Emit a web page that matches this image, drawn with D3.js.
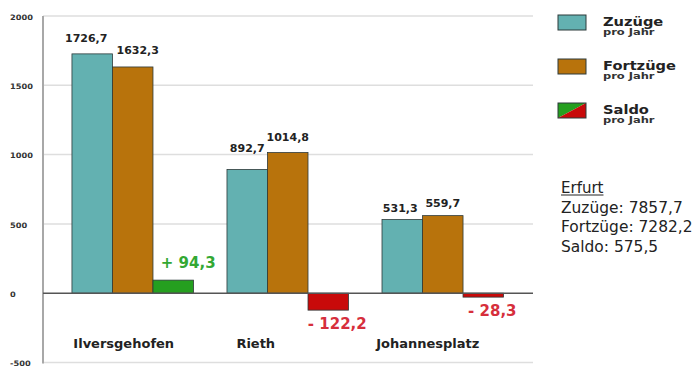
<!DOCTYPE html>
<html><head><meta charset="utf-8">
<script src="https://cdn.jsdelivr.net/npm/d3@7"></script>
<style>html,body{margin:0;padding:0;background:#fff;}svg{display:block;}</style>
</head><body>
<script>
// ---- data ----
const categories = ["Ilversgehofen", "Rieth", "Johannesplatz"];
const zuzuege   = [1726.7, 892.7, 531.3];
const fortzuege = [1632.3, 1014.8, 559.7];
const saldo     = [94.3, -122.2, -28.3];
const yTicks    = [-500, 0, 500, 1000, 1500, 2000];
const legendNames = ["Zuzüge", "Fortzüge", "Saldo"];
const legendSub = "pro Jahr";
const totalTitle = "Erfurt";
const totalLabels = ["Zuzüge", "Fortzüge", "Saldo"];
const totalValues = [7857.7, 7282.2, 575.5];

// ---- layout (label fine-tuning, not data) ----
const zuLift = [12, 17.5, 7.5], foLift = [12.5, 11.5, 8.5];
const zuDx = [-6, 0, -2], foDx = [5, 0, 0];
const catDx = [-9, -32, -15];

const W = 698, H = 369;
const C = {teal:"#63b1b1", brown:"#b8730c", green:"#259f1f", red:"#c80a0a",
           greenTxt:"#33a833", redTxt:"#d62f3c", text:"#222"};
const F = "'DejaVu Sans', sans-serif";

const svg = d3.select("body").append("svg").attr("width", W).attr("height", H);

const y = d3.scaleLinear().domain([-500, 2000]).range([362.5, 16]);
const x0 = d3.scaleBand().domain(categories).range([42.5, 533]).paddingInner(0.216).paddingOuter(0.19);
const series = ["zu", "fo", "sa"];
const x1 = d3.scaleBand().domain(series).range([0, x0.bandwidth()]);
const fmt = v => d3.format(".1f")(Math.abs(v)).replace(".", ",");

function txt(g, s, xx, yy, o) {
  const t = g.append("text").attr("transform", `translate(${xx},${yy}) scale(${o.sx||1},1)`)
    .attr("font-family", F).attr("font-size", o.size).attr("font-weight", o.bold ? "bold" : "normal")
    .attr("fill", o.fill || C.text).attr("text-anchor", o.anchor || "middle").text(s);
  return t;
}

// gridlines
svg.append("g").selectAll("line").data(yTicks.filter(d => d !== 0)).join("line")
  .attr("x1", 43).attr("x2", 533).attr("y1", d => y(d)).attr("y2", d => y(d))
  .attr("stroke", "#dedede").attr("stroke-width", 1.5);

// y axis labels
yTicks.forEach(t => txt(svg, String(t), 10, y(t) + 3.8, {size: 7.5, bold: true, sx: 1.1, anchor: "start", fill: "#333"}));

// vertical axis
svg.append("line").attr("x1", 43).attr("x2", 43).attr("y1", y(2000)).attr("y2", y(-500) + 1)
  .attr("stroke", "#a8a8a8").attr("stroke-width", 2);

// bars
const g = svg.append("g");
categories.forEach((c, i) => {
  const vals = [zuzuege[i], fortzuege[i], saldo[i]];
  const fills = [C.teal, C.brown, saldo[i] >= 0 ? C.green : C.red];
  vals.forEach((v, j) => {
    const xx = x0(c) + x1(series[j]);
    g.append("rect").attr("x", xx).attr("width", x1.bandwidth())
      .attr("y", y(Math.max(0, v))).attr("height", Math.abs(y(v) - y(0)))
      .attr("fill", fills[j]).attr("stroke", "#2d3a3a").attr("stroke-width", 0.8);
  });
  const cx = j => x0(c) + x1(series[j]) + x1.bandwidth() / 2;
  txt(svg, fmt(zuzuege[i]), cx(0) + zuDx[i], y(zuzuege[i]) - zuLift[i], {size: 11, bold: true});
  txt(svg, fmt(fortzuege[i]), cx(1) + foDx[i], y(fortzuege[i]) - foLift[i], {size: 11, bold: true});
  const s = saldo[i];
  if (s >= 0) txt(svg, "+ " + fmt(s), cx(2) + 15, y(s) - 12, {size: 15, bold: true, fill: C.greenTxt});
  else txt(svg, "- " + fmt(s), cx(2) + 9, y(s) + 19, {size: 15, bold: true, fill: C.redTxt});
  txt(svg, c, x0(c) + x0.bandwidth() / 2 + catDx[i], 347.5, {size: 13, bold: true});
});

// zero line
svg.append("line").attr("x1", 43).attr("x2", 533).attr("y1", y(0)).attr("y2", y(0))
  .attr("stroke", "#555").attr("stroke-width", 1.4);

// legend
const lg = svg.append("g");
legendNames.forEach((n, i) => {
  const yy = 15 + i * 44;
  if (i < 2) {
    lg.append("rect").attr("x", 558).attr("y", yy).attr("width", 28).attr("height", 15)
      .attr("fill", i === 0 ? C.teal : C.brown).attr("stroke", "#2d3a3a").attr("stroke-width", 1);
  } else {
    lg.append("polygon").attr("points", `558,${yy} 586,${yy} 558,${yy+15}`).attr("fill", C.green);
    lg.append("polygon").attr("points", `586,${yy} 586,${yy+15} 558,${yy+15}`).attr("fill", C.red);
    lg.append("rect").attr("x", 558).attr("y", yy).attr("width", 28).attr("height", 15)
      .attr("fill", "none").attr("stroke", "#2d3a3a").attr("stroke-width", 1);
  }
  txt(lg, n, 603, yy + 11, {size: 12.5, bold: true, sx: 1.17, anchor: "start"});
  txt(lg, legendSub, 603, yy + 20, {size: 8.5, bold: true, sx: 1.35, anchor: "start", fill: "#333"});
});

// totals
const tg = svg.append("g");
const tt = txt(tg, totalTitle, 561, 193, {size: 15, sx: 1.0, anchor: "start"});
const tw = tt.node().getComputedTextLength();
tg.append("line").attr("x1", 561).attr("x2", 561 + tw).attr("y1", 195).attr("y2", 195)
  .attr("stroke", C.text).attr("stroke-width", 1);
totalLabels.forEach((l, i) => {
  txt(tg, l + ": " + fmt(totalValues[i]), 561, 212.5 + i * 19.8, {size: 15, sx: 1.03, anchor: "start"});
});
</script>
</body></html>
